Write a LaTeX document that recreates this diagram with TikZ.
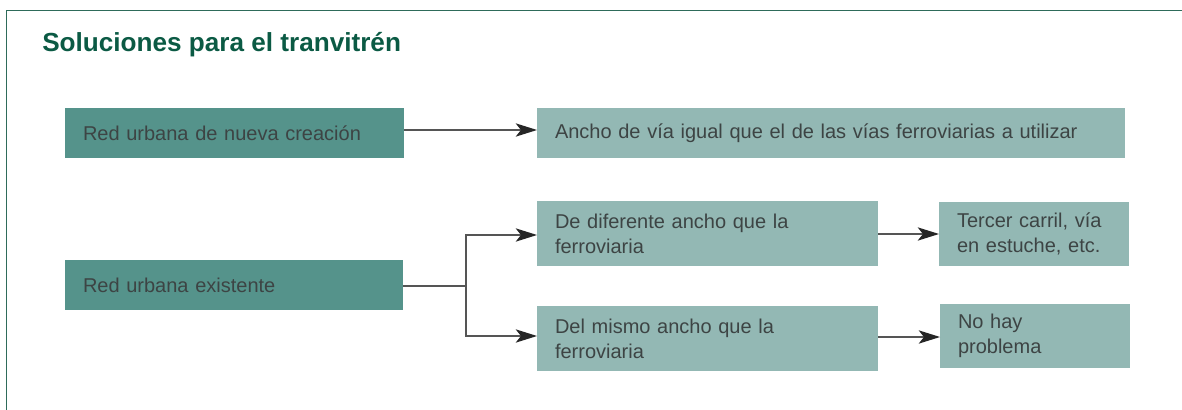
\documentclass[tikz,border=0pt]{standalone}
\usepackage{fontspec}
\setmainfont{Liberation Sans}
\usetikzlibrary{arrows.meta}
\definecolor{darkbox}{HTML}{55938B}
\definecolor{lightbox}{HTML}{93B8B4}
\definecolor{titlegreen}{HTML}{0B5A44}
\definecolor{framegreen}{HTML}{2E6B5A}
\definecolor{txt}{HTML}{3D4444}
\definecolor{linegray}{HTML}{555555}
\begin{document}
\begin{tikzpicture}[x=0.75pt,y=-0.75pt,
  boxbase/.style={anchor=north west, inner xsep=13.5pt, inner ysep=0pt, align=left,
    text=txt, font=\fontsize{15}{18.75}\selectfont, outer sep=0pt},
  darkb/.style={boxbase, fill=darkbox},
  lightb/.style={boxbase, fill=lightbox},
  conn/.style={draw=linegray, line width=0.9pt},
  arr/.style={conn, -{Stealth[length=16pt, width=10pt, inset=4pt, fill=black!85, color=black!85]}}
]
\useasboundingbox (0,0) rectangle (1182,410);
\draw[framegreen, line width=1.2pt] (6.5,410) -- (6.5,10.5) -- (1182,10.5);
\node[anchor=base west, inner sep=0pt, text=titlegreen, font=\fontsize{19.6}{23}\selectfont\bfseries] (title) at (42,52) {Soluciones para el tranvitrén};

\node[darkb, minimum width=254.25pt, minimum height=37.5pt, text width=227.25pt] (A) at (65,108) {Red urbana de nueva creación};
\node[lightb, minimum width=441pt, minimum height=37.5pt, text width=414pt] (B) at (537,108) {Ancho de vía igual que el de las vías ferroviarias a utilizar};
\node[darkb, minimum width=253.5pt, minimum height=37.5pt, text width=226.5pt] (C) at (65,260) {Red urbana existente};
\node[lightb, minimum width=255.75pt, minimum height=48.75pt, text width=228.75pt] (D) at (537,201) {De diferente ancho que la\\ferroviaria};
\node[lightb, minimum width=142.5pt, minimum height=48pt, text width=115.5pt] (E) at (939,202) {Tercer carril, vía\\en estuche, etc.};
\node[lightb, minimum width=255.75pt, minimum height=48.75pt, text width=228.75pt] (F) at (537,306) {Del mismo ancho que la\\ferroviaria};
\node[lightb, minimum width=142.5pt, minimum height=48pt, text width=115.5pt] (G) at (940,304) {No hay\\problema};

\coordinate (j) at (466,286);
\draw[arr] (A.east |- 0,130) -- (B.west |- 0,130);
\draw[conn] (C.east |- j) -- (j);
\draw[arr] (j) |- (D.west |- 0,235);
\draw[arr] (j) |- (F.west |- 0,336);
\draw[arr] (D.east |- 0,234) -- (E.west |- 0,234);
\draw[arr] (F.east |- 0,337) -- (G.west |- 0,337);
\end{tikzpicture}
\end{document}
